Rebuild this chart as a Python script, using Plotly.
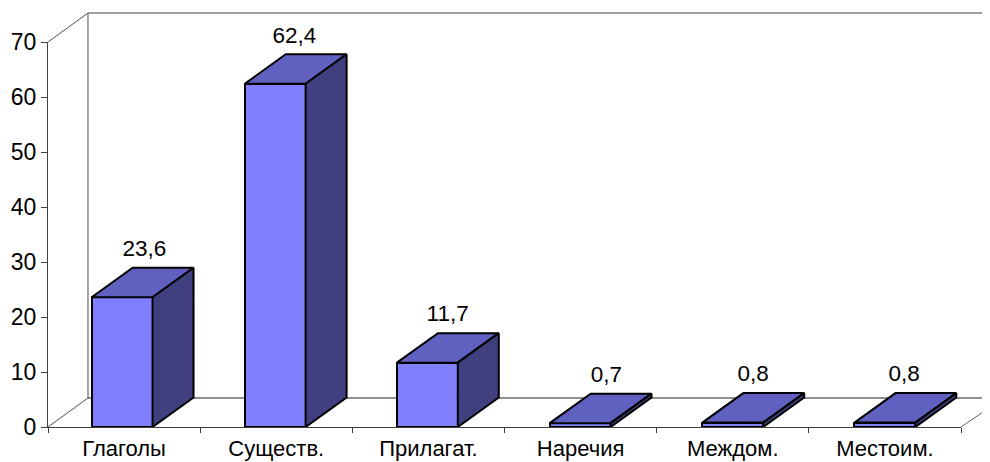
import plotly.graph_objects as go

categories = ["Глаголы", "Существ.", "Прилагат.", "Наречия", "Междом.", "Местоим."]
values = [23.6, 62.4, 11.7, 0.7, 0.8, 0.8]
y_ticks = [0, 10, 20, 30, 40, 50, 60, 70]

BAR_W = 0.4
DX = 41 / 152.2      # depth offset in category units
DY = 29.5 / 5.5      # depth offset in value units
WALL_DX = 40 / 152.2
WALL_DY = 29 / 5.5
FRONT, TOP, SIDE = "#8080FF", "#6060C0", "#404080"
FONT = "Liberation Sans, Arial, sans-serif"

xs = list(range(len(categories)))
xmin, xmax, ymax = -0.5, len(categories) - 0.5, y_ticks[-1]
xshift = [-0.013, -0.007, -0.007, -0.003, 0, 0]
label_nudge = [3 / 152.2, 0, 1 / 152.2, 7 / 152.2, 1 / 152.2, 0]
xpos = [x + s for x, s in zip(xs, xshift)]

fig = go.Figure()


def px(x):
    return (x - xmin) / (xmax - xmin)


def wall(x0, y0, x1, y1, color, width=1):
    # paper-referenced so the box may reach past the plot area, drawn under the bars
    fig.add_shape(type="line", xref="paper", yref="paper", layer="below",
                  x0=px(x0), y0=y0 / ymax, x1=px(x1), y1=y1 / ymax,
                  line=dict(color=color, width=width))


# walls and floor of the 3D box
ext = xmax + 29 / 152.2
wall(xmin, ymax, xmin + WALL_DX, ymax + WALL_DY, "#505050")
wall(xmin + WALL_DX, ymax + WALL_DY, xmin + WALL_DX, WALL_DY, "#505050")
wall(xmin, 0, xmin + WALL_DX, WALL_DY, "#505050")
wall(xmin + WALL_DX, ymax + WALL_DY, ext, ymax + WALL_DY, "#808080", 1.5)
wall(xmin + WALL_DX, WALL_DY, ext, WALL_DY, "#202020")
wall(xmax, 0, ext, WALL_DY * 0.68, "#606060")

# front faces
fig.add_trace(go.Bar(x=xpos, y=values, width=BAR_W, showlegend=False, hoverinfo="skip",
                     marker=dict(color=FRONT, line=dict(color="black", width=2))))

# top and side faces, derived from the values
for x, v in zip(xpos, values):
    l, r = x - BAR_W / 2, x + BAR_W / 2
    fig.add_trace(go.Scatter(x=[l, l + DX, r + DX, r, l], y=[v, v + DY, v + DY, v, v],
                             mode="lines", fill="toself", fillcolor=TOP, cliponaxis=False,
                             line=dict(color="black", width=2), showlegend=False, hoverinfo="skip"))
    fig.add_trace(go.Scatter(x=[r, r + DX, r + DX, r, r], y=[v, v + DY, DY, 0, v],
                             mode="lines", fill="toself", fillcolor=SIDE, cliponaxis=False,
                             line=dict(color="black", width=2), showlegend=False, hoverinfo="skip"))

# value labels
fig.add_trace(go.Scatter(x=[x + DX / 2 - 0.008 + n for x, n in zip(xpos, label_nudge)],
                         y=[v + DY + 1.1 for v in values],
                         mode="text", text=[f"{v:.1f}".replace(".", ",") for v in values],
                         textposition="top center", cliponaxis=False,
                         textfont=dict(family=FONT, size=22.5, color="black"),
                         showlegend=False, hoverinfo="skip"))

fig.update_layout(
    width=982, height=454, margin=dict(l=40, r=29, t=34, b=35, autoexpand=False),
    paper_bgcolor="white", plot_bgcolor="white", bargap=0,
    font=dict(family=FONT, size=22, color="black"),
    xaxis=dict(range=[xmin, xmax], tickmode="array", tickvals=xs, ticktext=categories,
               ticks="", showgrid=False, zeroline=False, showline=True, linecolor="#404040",
               linewidth=1, ticklabelstandoff=2, tickfont=dict(family=FONT, size=22, color="black"),
               minor=dict(tickmode="array", tickvals=[x - 0.5 for x in xs] + [xmax],
                          ticks="outside", ticklen=5, tickcolor="#404040", showgrid=False)),
    yaxis=dict(range=[0, ymax], tickmode="array", tickvals=y_ticks, ticks="outside", ticklen=6,
               tickcolor="#404040", showgrid=False, zeroline=False, showline=True,
               linecolor="#404040", linewidth=1, tickfont=dict(family=FONT, size=23, color="black")),
)
fig.write_html("out.html")
